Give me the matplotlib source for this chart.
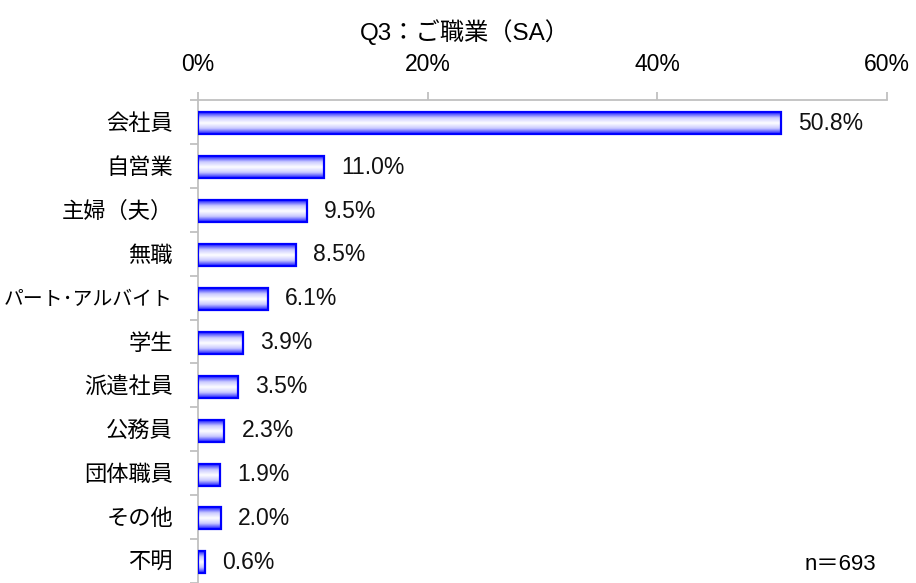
import numpy as np
import matplotlib.pyplot as plt
from matplotlib.patches import Rectangle
from matplotlib.colors import LinearSegmentedColormap

plt.rcParams['font.family'] = ['Liberation Sans', 'Noto Sans CJK JP']

categories = ['会社員', '自営業', '主婦（夫）', '無職', 'パート･アルバイト', '学生',
              '派遣社員', '公務員', '団体職員', 'その他', '不明']
values = [50.8, 11.0, 9.5, 8.5, 6.1, 3.9, 3.5, 2.3, 1.9, 2.0, 0.6]
xticks = [0, 20, 40, 60]

fig = plt.figure(figsize=(9.16, 5.83), dpi=100)
ax = fig.add_axes([198 / 916, 0.0, (887 - 198) / 916, 1 - 100 / 583])

grad = LinearSegmentedColormap.from_list('g', ['#1a1aff', '#c8c8ff', '#ffffff', '#c8c8ff', '#1a1aff'])
gimg = np.linspace(0, 1, 64).reshape(-1, 1)
h = 0.5
for i, v in enumerate(values):
    yc = i + 0.03
    ax.imshow(gimg, cmap=grad, aspect='auto', extent=(0, v, yc + h / 2, yc - h / 2),
              interpolation='bicubic', zorder=2)
    ax.add_patch(Rectangle((0, yc - h / 2), v, h, fill=False, edgecolor='#0000ff', lw=1.6, zorder=3))
    ax.text(v + 1.5, yc, f'{v:.1f}%', va='center', ha='left', fontsize=16.5, color='#111111')

ax.set_xlim(0, 60)
ax.set_ylim(10.28, -0.5)
ax.xaxis.tick_top()
ax.set_xticks(xticks)
ax.set_xticklabels([f'{t}%' for t in xticks], fontsize=16.5)
ax.tick_params(axis='x', length=6, color='#c0c0c0', width=1.3, pad=11)

ax.set_yticks(range(len(categories)))
ax.set_yticklabels(categories, fontsize=16)
for lab in ax.get_yticklabels():
    if len(lab.get_text()) > 6:
        lab.set_fontsize(14.3)
ax.set_yticks(np.arange(-0.5, len(categories), 1), minor=True)
ax.tick_params(axis='y', which='major', length=0, pad=18)
ax.tick_params(axis='y', which='minor', length=6, color='#c0c0c0', width=1.3)

for s in ['right', 'bottom']:
    ax.spines[s].set_visible(False)
for s in ['top', 'left']:
    ax.spines[s].set_color('#c0c0c0')
    ax.spines[s].set_linewidth(1.3)

fig.text(465 / 916, 1 - 32 / 583, 'Q3：ご職業（SA）', ha='center', va='center', fontsize=17.5)
fig.text(840 / 916, 1 - 565 / 583, 'n＝693', ha='center', va='center', fontsize=16)

fig.savefig('out.png', dpi=100)
